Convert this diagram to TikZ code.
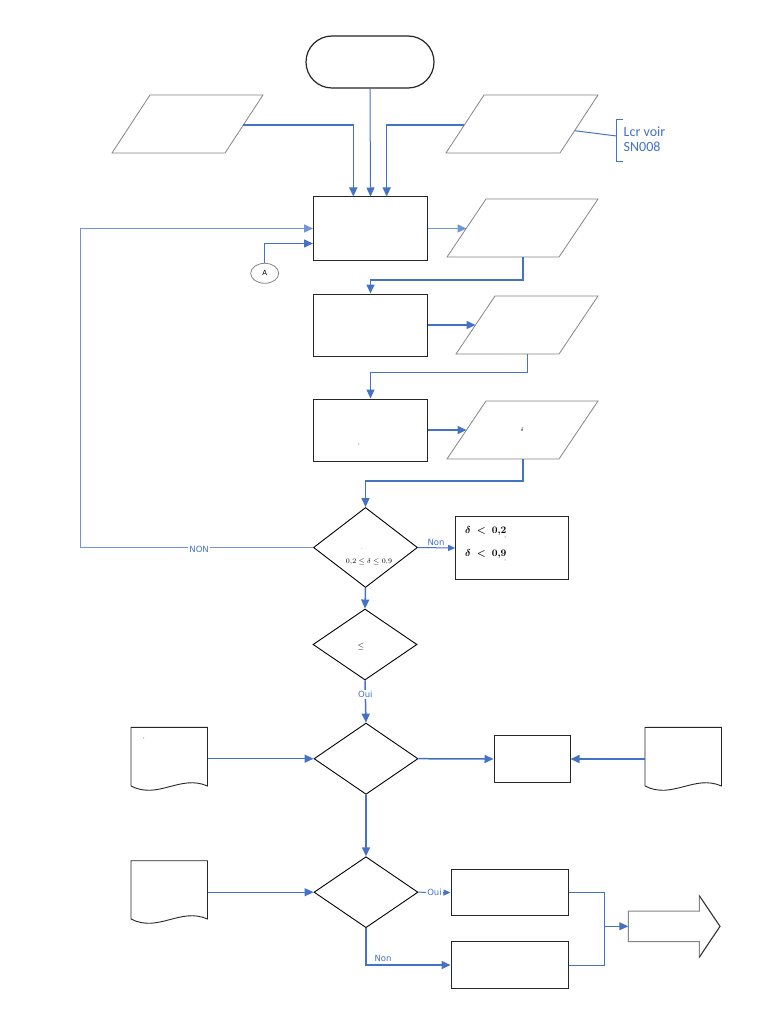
\documentclass[tikz,border=0pt]{standalone}
\usepackage{fontspec}
\usepackage{bm}
\usetikzlibrary{arrows.meta,shapes.geometric}
\newfontfamily\lcrfont{Carlito}
\newfontfamily\labfont{DejaVu Sans}
\definecolor{cblue}{HTML}{4472C4}
\definecolor{lblue}{HTML}{7096D8}
\definecolor{pgray}{HTML}{858585}
\newcommand\docshape[3]{\draw[docst] (#1,#2) -- (#1+76.5,#2) -- (#1+76.5,#3) .. controls (#1+49.5,#3-12) and (#1+27,#3+14) .. (#1,#3) -- cycle;}
\begin{document}
\begin{tikzpicture}[x=1pt,y=-1pt,
  conn/.style={draw=cblue,line width=1.5pt},
  thinconn/.style={draw=cblue,line width=1pt},
  arr/.style={-{Triangle[length=9pt,width=8pt]}},
  sarr/.style={-{Triangle[length=7pt,width=6pt]}},
  procbox/.style={draw=black!85,line width=1pt,inner sep=0pt},
  decision/.style={diamond,draw=black,line width=0.9pt,inner sep=0pt,minimum width=104pt},
  para/.style={draw=pgray,line width=0.8pt},
  docst/.style={draw=black!85,line width=0.9pt},
  lab/.style={text=cblue,font=\labfont\fontsize{8.5}{9}\selectfont,inner sep=1pt},
  tinytxt/.style={font=\fontsize{5}{5}\selectfont,inner sep=0pt}
]
\useasboundingbox[fill=white] (0,0) rectangle (768,1024);

% ---------- shapes ----------
\node[procbox,line width=1.2pt,rounded corners=26pt,minimum width=128pt,minimum height=52pt] (start) at (370,62) {};

\draw[para] (150,95) -- (263,95) -- (225,153) -- (112,153) -- cycle;
\coordinate (p0r) at (243.3,125);
\draw[para] (484,95) -- (598,95) -- (560,153) -- (446,153) -- cycle;
\coordinate (p1l) at (464.3,125);
\coordinate (p1r) at (574.6,130.7);

\node[procbox,minimum width=114pt,minimum height=63pt] (b1) at (370.5,228.5) {};
\draw[para] (486,199) -- (598,199) -- (559,257) -- (447,257) -- cycle;
\coordinate (p2l) at (466.5,228.5);
\coordinate (p2b) at (523,257);

\node[procbox,minimum width=114pt,minimum height=62pt] (b2) at (370.5,325) {};
\draw[para] (495,296) -- (598,296) -- (559,354) -- (456,354) -- cycle;
\coordinate (p3l) at (475.5,325);
\coordinate (p3b) at (527,354);

\node[procbox,minimum width=114pt,minimum height=62pt] (b3) at (370.5,430) {};
\node[tinytxt] (b3t) at (359,445) {,};
\draw[para] (486,401) -- (598,401) -- (559,459) -- (447,459) -- cycle;
\node[tinytxt] (p4t) at (522,430) {$\delta$};
\coordinate (p4l) at (466.5,430);
\coordinate (p4b) at (523,459);

\node[decision,minimum height=80pt] (d1) at (365.5,547.5) {};
\node[tinytxt] (d1a) at (362,549) {.};
\node[font=\fontsize{7}{8}\selectfont,inner sep=0pt] (d1t) at (369,562) {$0{,}2\le\delta\le0{,}9$};

\node[procbox,minimum width=112.6pt,minimum height=62.3pt] (b4) at (512,548) {};
\node[font=\fontsize{10}{11}\selectfont,anchor=west,inner sep=0pt] (b4a) at (465,531) {$\bm{\delta}$\hspace{6pt}$\bm{<}$\hspace{6pt}\textbf{0,2}};
\node[font=\fontsize{10}{11}\selectfont,anchor=west,inner sep=0pt] (b4b) at (465,554) {$\bm{\delta}$\hspace{6pt}$\bm{<}$\hspace{6pt}\textbf{0,9}};
\node[tinytxt] (c1) at (505,538) {,};
\node[tinytxt] (c2) at (505,561) {,};

\node[decision,minimum height=71pt] (d2) at (365,644.5) {};
\node[font=\fontsize{8}{8}\selectfont,inner sep=0pt] (d2t) at (361,646) {$\le$};

\node[decision,minimum height=71.3pt] (d3) at (366,758.7) {};
\node[procbox,minimum width=76pt,minimum height=46.6pt] (b5) at (532,759) {};
\docshape{131}{727.3}{786}
\node[tinytxt] (doc1t) at (144,739) {,};
\coordinate (doc1r) at (207.5,758.7);
\docshape{645}{727.3}{786}
\coordinate (doc2l) at (645,759);

\node[decision,minimum height=71pt] (d4) at (366,892.2) {};
\docshape{131}{860.7}{919}
\coordinate (doc3r) at (207.5,892.2);
\node[procbox,minimum width=117pt,minimum height=46.7pt] (b6) at (509.5,892.6) {};
\node[procbox,minimum width=117pt,minimum height=46.6pt] (b7) at (509.5,965) {};

\draw[draw=pgray,line width=1pt] (628.3,911) -- (699.3,911) -- (699.3,895.7) -- (720,926.3) -- (699.3,957.3) -- (699.3,941.7) -- (628.3,941.7) -- cycle;
\draw[draw=black!80,line width=0.9pt] (699.3,895.7) -- (720,926.3) -- (699.3,957.3);
\coordinate (big) at (628.3,926.3);

\node[draw=pgray,line width=0.8pt,ellipse,minimum width=28pt,minimum height=20pt,inner sep=0pt,font=\labfont\fontsize{7}{7}\selectfont] (A) at (264.7,273.3) {A};

% ---------- connectors ----------
\draw[conn,arr] (p0r) -| ([xshift=-17.2pt]b1.north);
\draw[thinconn,arr] (start.south) -- (b1.north);
\draw[conn,arr] (p1l) -| ([xshift=16.2pt]b1.north);
\draw[thinconn] (p1r) -- (616.5,136);
\draw[thinconn] (623,120) -- (616.5,120) -- (616.5,161.7) -- (623,161.7);
\node[text=cblue,font=\lcrfont\fontsize{14}{15}\selectfont,anchor=base west,inner sep=0pt] (lcr1) at (623.5,136.7) {Lcr voir};
\node[text=cblue,font=\lcrfont\fontsize{14}{15}\selectfont,anchor=base west,inner sep=0pt] (lcr2) at (623.5,151.7) {SN008};

\draw[draw=lblue,line width=1.3pt,arr] (b1.east) -- (p2l);
\draw[conn,arr] (p2b) -- ++(0,23) -| (b2.north);
\draw[conn,arr] (b2.east) -- (p3l);
\draw[thinconn,arr] (p3b) -- ++(0,18) -| (b3.north);
\draw[conn,arr] (b3.east) -- (p4l);
\draw[conn,arr] (p4b) -- ++(0,22) -| (d1.north);

\draw[draw=lblue,line width=1.4pt,arr] (d1.west) -- node[lab,fill=white,pos=0.49,yshift=-2pt] (non1) {NON} ++(-232.5,0) |- (b1.west);
\draw[conn,arr] (A.north) |- ([yshift=-15pt]b1.west);

\draw[thinconn,sarr] (d1.east) -- (b4.west);
\node[lab] (non2) at (436,542) {Non};

\draw[conn,arr] (d1.south) -- (d2.north);
\draw[conn,arr] (d2.south) -- node[lab,fill=white,pos=0.33] (oui1) {Oui} (d3.north);

\draw[conn,arr] (doc1r) -- (d3.west);
\draw[conn,arr] (d3.east) -- (b5.west);
\draw[conn,arr] (doc2l) -- (b5.east);
\draw[conn,arr] (d3.south) -- (d4.north);

\draw[thinconn,arr] (doc3r) -- (d4.west);
\draw[thinconn,sarr] (d4.east) -- node[lab,fill=white,pos=0.5] (oui2) {Oui} (b6.west);
\draw[conn,arr] (d4.south) |- (b7.west);
\node[lab,fill=white] (non3) at (383,958.5) {Non};

\draw[thinconn] (b6.east) -- ++(36,0) |- (b7.east);
\draw[thinconn,arr] (604,926.3) -- (big);
\end{tikzpicture}
\end{document}
